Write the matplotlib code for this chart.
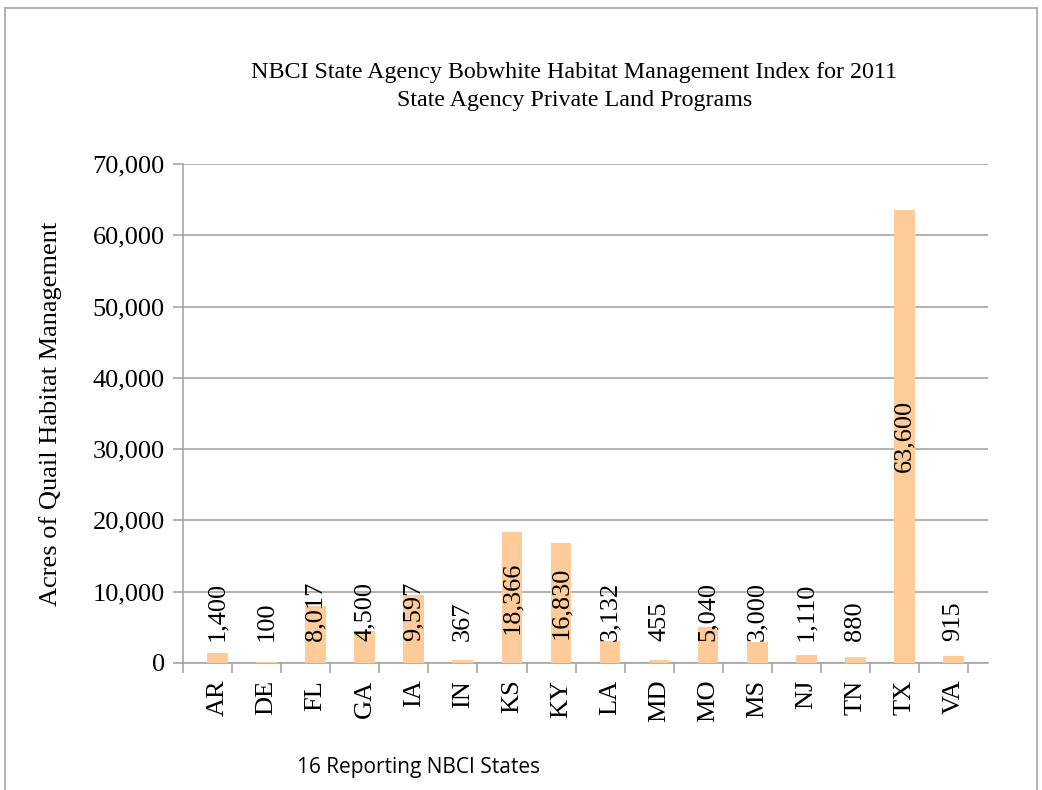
import numpy as np
import matplotlib
matplotlib.use("Agg")
import matplotlib.pyplot as plt
from matplotlib.ticker import FuncFormatter, FixedLocator

states = ['AR', 'DE', 'FL', 'GA', 'IA', 'IN', 'KS', 'KY', 'LA', 'MD', 'MO', 'MS', 'NJ', 'TN', 'TX', 'VA']
acres = [1400, 100, 8017, 4500, 9597, 367, 18366, 16830, 3132, 455, 5040, 3000, 1110, 880, 63600, 915]
yticks = [0, 10000, 20000, 30000, 40000, 50000, 60000, 70000]

plt.rcParams['font.family'] = ['Liberation Serif', 'DejaVu Serif']

fig = plt.figure(figsize=(10.42, 7.9), dpi=100)
ax = fig.add_axes([0.1756, 0.1608, 0.7725, 0.6316])

x = np.arange(len(states))
ax.bar(x, acres, width=0.42, color='#FFCC99', zorder=3)

ax.set_xlim(-0.7, len(states) - 0.3)
ax.set_ylim(0, 70000)
ax.yaxis.set_major_locator(FixedLocator(yticks))
ax.yaxis.set_major_formatter(FuncFormatter(lambda v, p: '{:,.0f}'.format(v)))
ax.grid(axis='y', color='#a6a6a6', linewidth=1.2, zorder=0)

ax.set_xticks(x)
ax.set_xticklabels(states, rotation=90)
ax.set_xticks(np.arange(len(states) + 1) - 0.7, minor=True)
ax.tick_params(axis='x', which='major', length=0, pad=12, labelsize=19)
ax.tick_params(axis='x', which='minor', length=7, color='#a6a6a6', width=1.2, direction='out')
ax.tick_params(axis='y', length=7, color='#a6a6a6', width=1.2, labelsize=19, pad=6)

for s in ['top', 'right']:
    ax.spines[s].set_visible(False)
for s in ['left', 'bottom']:
    ax.spines[s].set_color('#a6a6a6')
    ax.spines[s].set_linewidth(1.2)

# data labels: centered in bar, but kept clear of the axis for short bars
for xi, v in zip(x, acres):
    lbl = '{:,}'.format(v)
    if v < 14800:
        ax.text(xi, 3100, lbl, rotation=90, ha='center', va='bottom', fontsize=19, zorder=4)
    else:
        ax.text(xi, v / 2, lbl, rotation=90, ha='center', va='center', fontsize=19, zorder=4)

ax.set_ylabel('Acres of Quail Habitat Management', fontsize=19, labelpad=22)

fig.text(0.551, 0.908, 'NBCI State Agency Bobwhite Habitat Management Index for 2011',
         ha='center', va='center', fontsize=17.3)
fig.text(0.551, 0.873, 'State Agency Private Land Programs', ha='center', va='center', fontsize=17.3)

fig.text(0.285, 0.029, '16 Reporting NBCI States', ha='left', va='center', fontsize=15,
         family=['Open Sans', 'DejaVu Sans'])

# outer frame
fx0, fx1, fy1 = 5 / 1042, 1037 / 1042, 1 - 8 / 790
for xs, ys in [([fx0, fx1], [fy1, fy1]), ([fx0, fx0], [0, fy1]), ([fx1, fx1], [0, fy1])]:
    fig.add_artist(plt.Line2D(xs, ys, color='#a6a6a6', linewidth=1.2, transform=fig.transFigure))

fig.savefig('out.png', dpi=100)
